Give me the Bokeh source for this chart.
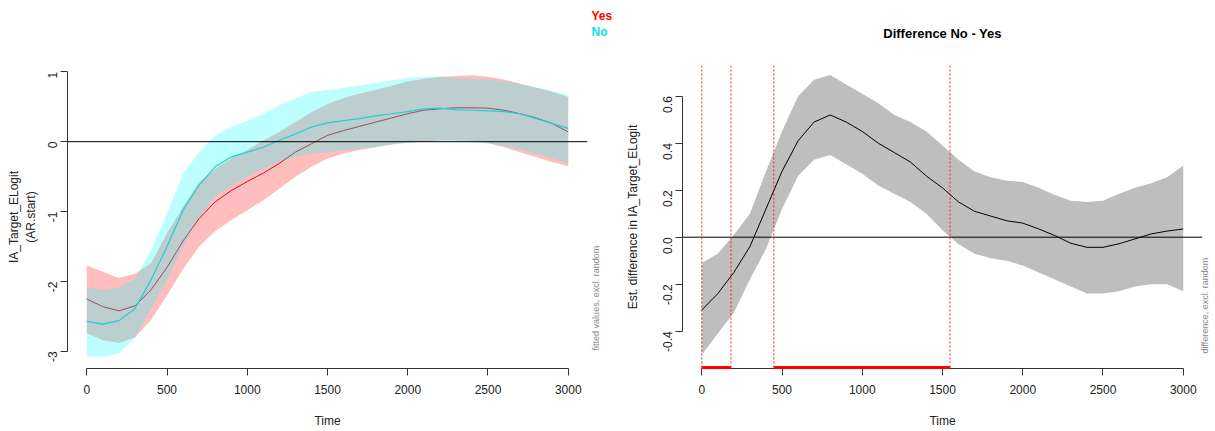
import math
from bokeh.plotting import figure
from bokeh.layouts import row
from bokeh.models import Range1d, Label, Span, FixedTicker, NumeralTickFormatter
from bokeh.embed import file_html
from bokeh.resources import INLINE

# ---------------- data ----------------
time = list(range(0, 3001, 100))

yes_fit = [-2.25, -2.36, -2.42, -2.35, -2.12, -1.80, -1.42, -1.10, -0.86, -0.70, -0.57,
           -0.45, -0.31, -0.15, -0.03, 0.09, 0.16, 0.22, 0.28, 0.34, 0.40, 0.45, 0.47,
           0.485, 0.485, 0.48, 0.45, 0.40, 0.34, 0.26, 0.14]
yes_upper = [-1.77, -1.86, -1.95, -1.89, -1.74, -1.31, -0.93, -0.58, -0.39, -0.24, -0.12,
             0.02, 0.14, 0.28, 0.42, 0.54, 0.62, 0.69, 0.74, 0.80, 0.86, 0.90, 0.93,
             0.94, 0.95, 0.93, 0.89, 0.83, 0.77, 0.71, 0.64]
yes_lower = [-2.74, -2.84, -2.88, -2.80, -2.55, -2.20, -1.82, -1.50, -1.28, -1.12, -0.98,
             -0.84, -0.67, -0.50, -0.36, -0.24, -0.17, -0.12, -0.08, -0.04, -0.01, 0.0,
             0.02, 0.02, 0.01, -0.02, -0.08, -0.15, -0.22, -0.29, -0.35]

no_fit = [-2.57, -2.61, -2.56, -2.39, -1.98, -1.50, -0.98, -0.62, -0.36, -0.22, -0.15,
          -0.08, 0.02, 0.11, 0.21, 0.27, 0.30, 0.33, 0.37, 0.40, 0.43, 0.47, 0.48, 0.46,
          0.45, 0.44, 0.43, 0.40, 0.33, 0.26, 0.19]
no_upper = [-2.08, -2.12, -2.09, -1.96, -1.55, -1.03, -0.46, -0.15, 0.09, 0.21, 0.30,
            0.40, 0.52, 0.62, 0.71, 0.74, 0.77, 0.80, 0.84, 0.88, 0.91, 0.93, 0.93, 0.91,
            0.90, 0.89, 0.87, 0.83, 0.78, 0.73, 0.66]
no_lower = [-3.07, -3.08, -3.03, -2.81, -2.39, -1.98, -1.50, -1.08, -0.79, -0.62, -0.50,
            -0.39, -0.29, -0.22, -0.17, -0.15, -0.12, -0.10, -0.08, -0.04, -0.02, 0.0,
            0.0, 0.0, -0.01, -0.03, -0.06, -0.11, -0.17, -0.24, -0.31]

diff_fit = [-0.31, -0.24, -0.15, -0.04, 0.12, 0.28, 0.41, 0.49, 0.52, 0.49, 0.45, 0.40,
            0.36, 0.32, 0.26, 0.21, 0.15, 0.11, 0.09, 0.07, 0.06, 0.035, 0.007, -0.026,
            -0.043, -0.043, -0.028, -0.007, 0.014, 0.026, 0.035]
diff_upper = [-0.11, -0.07, 0.01, 0.10, 0.28, 0.45, 0.60, 0.67, 0.69, 0.65, 0.61, 0.57,
              0.52, 0.49, 0.45, 0.39, 0.33, 0.28, 0.255, 0.24, 0.235, 0.21, 0.18, 0.155,
              0.15, 0.155, 0.185, 0.21, 0.23, 0.255, 0.305]
diff_lower = [-0.50, -0.41, -0.32, -0.18, -0.05, 0.12, 0.26, 0.33, 0.35, 0.31, 0.27, 0.22,
              0.185, 0.15, 0.10, 0.03, -0.03, -0.07, -0.09, -0.10, -0.12, -0.15, -0.18,
              -0.21, -0.24, -0.24, -0.23, -0.21, -0.20, -0.20, -0.23]

sig_start = [0, 449]
sig_end = [182, 1547]

x_ticks = [0, 500, 1000, 1500, 2000, 2500, 3000]
left_y_ticks = [-3, -2, -1, 0, 1]
right_y_ticks = [-0.4, -0.2, 0.0, 0.2, 0.4, 0.6]

# plotting region (R "usr") of each panel
REGION_X = (-120, 3120)
LEFT_REGION_Y = (-3.245, 1.09)
RIGHT_REGION_Y = (-0.5587, 0.7306)

FONT = "Liberation Sans"


def style(p, yticks, yfmt, ylabel, ylabel_standoff):
    p.outline_line_color = None
    p.xgrid.visible = False
    p.ygrid.visible = False
    p.background_fill_color = "white"
    p.border_fill_color = "white"
    for ax in (p.xaxis[0], p.yaxis[0]):
        ax.axis_line_color = "#333333"
        ax.major_tick_line_color = "#333333"
        ax.major_tick_out = 7
        ax.major_tick_in = 0
        ax.minor_tick_line_color = None
        ax.major_label_text_font = FONT
        ax.major_label_text_font_size = "12px"
        ax.major_label_text_color = "#222222"
        ax.axis_label_text_font = FONT
        ax.axis_label_text_font_size = "12px"
        ax.axis_label_text_font_style = "normal"
        ax.axis_label_text_color = "#222222"
    xa = p.xaxis[0]
    xa.ticker = FixedTicker(ticks=x_ticks)
    xa.bounds = (x_ticks[0], x_ticks[-1])
    xa.formatter = NumeralTickFormatter(format="0")
    xa.major_label_standoff = 9
    xa.axis_label = "Time"
    xa.axis_label_standoff = 17
    ya = p.yaxis[0]
    ya.ticker = FixedTicker(ticks=yticks)
    ya.bounds = (yticks[0], yticks[-1])
    ya.formatter = NumeralTickFormatter(format=yfmt)
    ya.major_label_orientation = math.pi / 2
    ya.major_label_standoff = 8
    ya.axis_label = ylabel
    ya.axis_label_standoff = ylabel_standoff


def margin_label(p, side, x, y, text, **kw):
    # placed in a side panel so that it is not clipped to the plot frame
    p.add_layout(Label(x=x, y=y, text=text, text_font=FONT, **kw), side)


# ---------------- left panel ----------------
p1 = figure(width=620, height=431, output_backend="svg", toolbar_location=None,
            x_range=Range1d(*REGION_X), y_range=Range1d(*LEFT_REGION_Y),
            min_border_left=67, min_border_right=33, min_border_top=65,
            min_border_bottom=63)
style(p1, left_y_ticks, "0", "IA_Target_ELogit\n(AR.start)", 3)

p1.varea(x=time, y1=yes_lower, y2=yes_upper, fill_color="#FF0000", fill_alpha=0.26)
p1.line(x=time, y=yes_fit, line_color="#D01020", line_width=1)
p1.varea(x=time, y1=no_lower, y2=no_upper, fill_color="#00FFFF", fill_alpha=0.26)
p1.line(x=time, y=no_fit, line_color="#20D0D0", line_width=1.2)
p1.add_layout(Span(location=0, dimension="width", line_color="black", line_width=1))

margin_label(p1, "above", 3145, 1.797, "Yes", text_color="#FF0000", text_font_style="bold",
             text_font_size="12px", text_baseline="middle", text_align="left")
margin_label(p1, "above", 3145, 1.568, "No", text_color="#00E5EE", text_font_style="bold",
             text_font_size="12px", text_baseline="middle", text_align="left")
margin_label(p1, "right", 3170, -2.986, "fitted values, excl. random", angle=math.pi / 2,
             text_color="#8A8A8A", text_font_size="9px",
             text_baseline="middle", text_align="left")

# ---------------- right panel ----------------
p2 = figure(width=595, height=431, output_backend="svg", toolbar_location=None,
            x_range=Range1d(*REGION_X), y_range=Range1d(*RIGHT_REGION_Y),
            min_border_left=62, min_border_right=13, min_border_top=65,
            min_border_bottom=63)
style(p2, right_y_ticks, "0.0", "Est. difference in IA_Target_ELogit", 16)

p2.varea(x=time, y1=diff_lower, y2=diff_upper, fill_color="#BEBEBE", fill_alpha=1.0)
p2.line(x=time, y=diff_fit, line_color="black", line_width=1)
p2.add_layout(Span(location=0, dimension="width", line_color="black", line_width=1))

for v in sig_start + sig_end:
    p2.add_layout(Span(location=v, dimension="height", line_color="#FF0000",
                       line_alpha=0.85, line_dash="2 2", line_width=1))

ybot = RIGHT_REGION_Y[0] + 0.004
p2.segment(x0=sig_start, y0=[ybot] * len(sig_start), x1=sig_end, y1=[ybot] * len(sig_end),
           line_color="#FF0000", line_width=3, level="overlay")

margin_label(p2, "above", 1500, 0.867, "Difference No - Yes", text_color="black",
             text_font_style="bold", text_font_size="13px",
             text_baseline="middle", text_align="center")
margin_label(p2, "right", 3138, -0.495, "difference, excl. random", angle=math.pi / 2,
             text_color="#8A8A8A", text_font_size="9px",
             text_baseline="middle", text_align="left")

layout = row(p1, p2)
open("out.html", "w").write(file_html(layout, INLINE))
